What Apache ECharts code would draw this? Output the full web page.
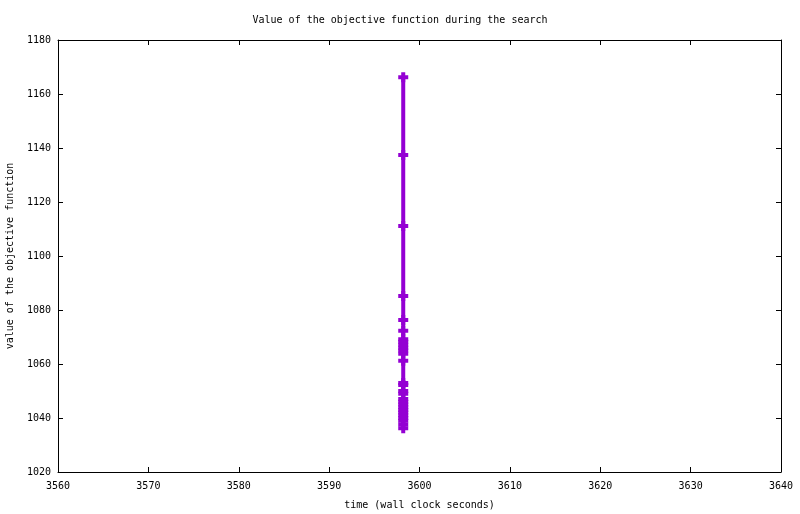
<!DOCTYPE html>
<html>
<head>
<meta charset="utf-8">
<script src="https://cdn.jsdelivr.net/npm/echarts@6/dist/echarts.min.js"></script>
<style>html,body{margin:0;padding:0;background:#fff}#c{width:800px;height:514px}</style>
</head>
<body>
<div id="c"></div>
<script>
var times = [3598.2,3598.2,3598.2,3598.2,3598.2,3598.2,3598.2,3598.2,3598.2,3598.2,3598.2,3598.2,3598.2,3598.2,3598.2,3598.2,3598.2,3598.2,3598.2,3598.2,3598.2,3598.2,3598.2,3598.2,3598.2,3598.2,3598.2,3598.2];
var objective = [1166.2,1137.4,1111.1,1085.2,1076.3,1072.3,1069.2,1068.2,1067.1,1066,1065,1063.8,1061.2,1053,1052.2,1050,1049,1047,1046,1045,1044,1043,1042,1041,1040,1039,1037.6,1036.2];
var xTicks = [3560,3570,3580,3590,3600,3610,3620,3630,3640];
var yTicks = [1020,1040,1060,1080,1100,1120,1140,1160,1180];
var titleText = 'Value of the objective function during the search';
var xName = 'time (wall clock seconds)';
var yName = 'value of the objective function';

var pts = objective.map(function(v, i){ return [times[i], v]; });
var font = 'DejaVu Sans Mono';
var axBase = {
  axisLine: {show: true, lineStyle: {color: '#000', width: 1}},
  axisTick: {show: true, inside: true, length: 5, lineStyle: {color: '#000'}},
  splitLine: {show: false}
};
var plain = function(v){ return String(v); };
var chart = echarts.init(document.getElementById('c'), null, {renderer: 'canvas'});
chart.setOption({
  backgroundColor: '#fff',
  animation: false,
  title: {text: titleText, left: 'center', top: 10,
    textStyle: {fontFamily: font, fontSize: 10, fontWeight: 'normal', color: '#000'}},
  grid: {left: 58, right: 19, top: 40, bottom: 42, containLabel: false, outerBoundsMode: 'none'},
  xAxis: [
    Object.assign({type: 'value', position: 'bottom', min: xTicks[0], max: xTicks[xTicks.length-1], interval: 10,
      name: xName, nameLocation: 'middle', nameGap: 28,
      nameTextStyle: {fontFamily: font, fontSize: 10, color: '#000'},
      axisLabel: {fontFamily: font, fontSize: 10, color: '#000', margin: 9, formatter: plain}}, axBase),
    Object.assign({type: 'value', position: 'top', min: xTicks[0], max: xTicks[xTicks.length-1], interval: 10,
      axisLabel: {show: false}}, axBase)
  ],
  yAxis: [
    Object.assign({type: 'value', position: 'left', min: yTicks[0], max: yTicks[yTicks.length-1], interval: 20,
      name: yName, nameLocation: 'middle', nameGap: 43, nameRotate: 90,
      nameTextStyle: {fontFamily: font, fontSize: 10, color: '#000'},
      axisLabel: {fontFamily: font, fontSize: 10, color: '#000', margin: 7, formatter: plain}}, axBase),
    Object.assign({type: 'value', position: 'right', min: yTicks[0], max: yTicks[yTicks.length-1], interval: 20,
      axisLabel: {show: false}}, axBase)
  ],
  series: [{
    type: 'line',
    data: pts,
    xAxisIndex: 0, yAxisIndex: 0,
    lineStyle: {color: '#9400D3', width: 4},
    itemStyle: {color: '#9400D3'},
    symbol: 'path://M3,0h4v3h3v4h-3v3h-4v-3h-3v-4h3z',
    symbolSize: [10, 10],
    showSymbol: true,
    showAllSymbol: true,
    smooth: false
  }]
});
</script>
</body>
</html>
